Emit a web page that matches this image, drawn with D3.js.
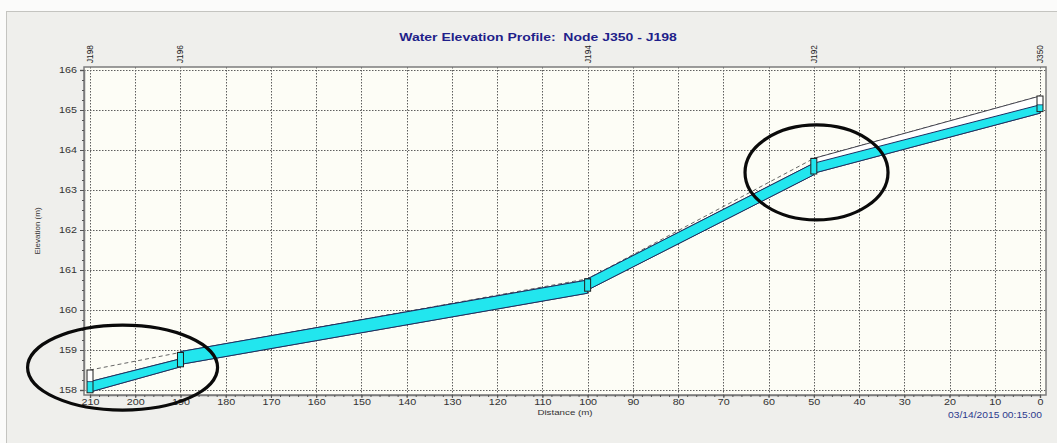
<!DOCTYPE html>
<html>
<head>
<meta charset="utf-8">
<script src="https://cdn.jsdelivr.net/npm/d3@7"></script>
<style>
  html, body { margin: 0; padding: 0; background: #fbfbfa; }
  svg { display: block; font-family: "Liberation Sans", Arial, sans-serif; }
</style>
</head>
<body>
<script>
// ---- Profile data (distance in m, elevation in m) ----
const nodeNames    = ["J198", "J196", "J194", "J192", "J350"];
const nodeDistance = [210, 190, 100, 50, 0];
const nodeInvert   = [157.93, 158.58, 160.47, 163.40, 164.96];
const nodeRim      = [158.50, 158.94, 160.78, 163.79, 165.35];
const nodeWater    = [158.21, 158.94, 160.78, 163.79, 165.13];

// Conduits between consecutive nodes (upstream end = larger distance)
const linkInvertUp = [157.95, 158.64, 160.50, 163.42];
const linkInvertDn = [158.58, 160.42, 163.38, 164.92];
const linkWaterUp  = [158.21, 158.96, 160.78, 163.67];
const linkWaterDn  = [158.78, 160.75, 163.67, 165.13];
const linkCrownUp  = [158.21, 158.96, 160.78, 163.79];
const linkCrownDn  = [158.78, 160.75, 163.67, 165.35];

// Axis ticks
const distanceTicks  = d3.range(0, 211, 10);
const distanceMinor  = d3.range(0, 211, 2);
const elevationTicks = d3.range(158, 167, 1);
const elevationMinor = d3.range(158, 166.01, 0.25);

// Highlight rings: [distance, elevation, rx, ry]
const ringCenters = [[202.8, 158.56, 95, 42.5], [49.4, 163.44, 71.5, 47.5]];

const titleText = "Water Elevation Profile:  Node J350 - J198";
const stampText = "03/14/2015 00:15:00";

const W = 1057, H = 443;
const SX = 1.25; // horizontal text stretch

const svg = d3.select("body").append("svg").attr("width", W).attr("height", H);

const x = d3.scaleLinear().domain([210, 0]).range([90, 1040]);
const y = d3.scaleLinear().domain([158, 166]).range([390, 70]);

const fx0 = x(210) - 6, fx1 = x(0) + 6;
const fy0 = y(166) - 3, fy1 = y(158) + 5;

// Window panel
svg.append("rect").attr("x", 6.5).attr("y", 11.5).attr("width", W - 6).attr("height", H - 11)
  .attr("fill", "#efefec").attr("stroke", "#c4c4c0");

// Plot area
svg.append("rect").attr("x", fx0).attr("y", fy0).attr("width", fx1 - fx0).attr("height", fy1 - fy0)
  .attr("fill", "#fdfdf6");

// Grid
const grid = svg.append("g").attr("stroke", "#5e5e5e").attr("stroke-width", 1)
  .attr("stroke-dasharray", "1.5,1.5");
grid.selectAll("line.v").data(distanceTicks).join("line")
  .attr("x1", d => Math.round(x(d)) + 0.5).attr("x2", d => Math.round(x(d)) + 0.5)
  .attr("y1", fy0).attr("y2", fy1);
grid.selectAll("line.h").data(elevationTicks).join("line")
  .attr("y1", d => Math.round(y(d)) + 0.5).attr("y2", d => Math.round(y(d)) + 0.5)
  .attr("x1", fx0).attr("x2", fx1);

// Ground surface (dashed, through node rims)
const rimPts = nodeDistance.map((d, i) => [x(d), y(nodeRim[i])]);
svg.append("path").attr("d", d3.line()(rimPts))
  .attr("fill", "none").attr("stroke", "#555").attr("stroke-width", 0.9)
  .attr("stroke-dasharray", "4,3");

// Conduits: pipe outline then water
const links = linkInvertUp.map((_, i) => ({
  d0: nodeDistance[i], d1: nodeDistance[i + 1],
  inv0: linkInvertUp[i], inv1: linkInvertDn[i],
  w0: linkWaterUp[i], w1: linkWaterDn[i],
  c0: linkCrownUp[i], c1: linkCrownDn[i]
}));

const line = d3.line();
svg.append("g").selectAll("path").data(links).join("path")
  .attr("d", l => line([[x(l.d0), y(l.inv0)], [x(l.d1), y(l.inv1)], [x(l.d1), y(l.c1)], [x(l.d0), y(l.c0)]]) + "Z")
  .attr("fill", "#ffffff").attr("stroke", "#333340").attr("stroke-width", 0.9);

svg.append("g").selectAll("path").data(links).join("path")
  .attr("d", l => line([[x(l.d0), y(l.inv0)], [x(l.d1), y(l.inv1)], [x(l.d1), y(l.w1)], [x(l.d0), y(l.w0)]]) + "Z")
  .attr("fill", "#22e6ee").attr("stroke", "#1d2f63").attr("stroke-width", 1);

// Nodes
const nodes = nodeNames.map((n, i) => ({
  name: n, d: nodeDistance[i], inv: nodeInvert[i], rim: nodeRim[i], w: nodeWater[i]
}));
const nw = 6;
const ng = svg.append("g").selectAll("g").data(nodes).join("g");
ng.append("rect")
  .attr("x", d => x(d.d) - nw / 2).attr("width", nw)
  .attr("y", d => y(d.rim)).attr("height", d => y(d.inv) - y(d.rim))
  .attr("fill", "#ffffff");
ng.append("rect")
  .attr("x", d => x(d.d) - nw / 2).attr("width", nw)
  .attr("y", d => y(d.w)).attr("height", d => y(d.inv) - y(d.w))
  .attr("fill", "#22e6ee");
ng.append("line")
  .attr("x1", d => x(d.d) - nw / 2).attr("x2", d => x(d.d) + nw / 2)
  .attr("y1", d => y(d.w)).attr("y2", d => y(d.w))
  .attr("stroke", "#1d2f63").attr("stroke-width", 0.8);
ng.append("rect")
  .attr("x", d => x(d.d) - nw / 2).attr("width", nw)
  .attr("y", d => y(d.rim)).attr("height", d => y(d.inv) - y(d.rim))
  .attr("fill", "none").attr("stroke", "#1e1e1e").attr("stroke-width", 1);

// Node labels above the frame
svg.append("g").selectAll("text").data(nodes).join("text")
  .attr("transform", d => `translate(${x(d.d) + 3},${fy0 - 4}) rotate(-90)`)
  .attr("font-size", 8.2).attr("fill", "#222").text(d => d.name);

// Frame
svg.append("rect").attr("x", fx0).attr("y", fy0).attr("width", fx1 - fx0).attr("height", fy1 - fy0)
  .attr("fill", "none").attr("stroke", "#7c7c7c").attr("stroke-width", 1.5);

// Axes
const yAxis = svg.append("g").attr("transform", `translate(${fx0},0)`)
  .call(d3.axisLeft(y).tickValues(elevationTicks).tickSize(4).tickPadding(2).tickFormat(d3.format("d")));
svg.append("g").attr("transform", `translate(${fx0},0)`)
  .call(d3.axisLeft(y).tickValues(elevationMinor).tickSize(2).tickFormat(""))
  .call(g => g.select(".domain").remove());

const xAxis = svg.append("g").attr("transform", `translate(0,${fy1})`)
  .call(d3.axisBottom(x).tickValues(distanceTicks).tickSize(3).tickPadding(1).tickFormat(d3.format("d")));
svg.append("g").attr("transform", `translate(0,${fy1})`)
  .call(d3.axisBottom(x).tickValues(distanceMinor).tickSize(2).tickFormat(""))
  .call(g => g.select(".domain").remove());

svg.selectAll(".tick line").attr("stroke", "#555");
svg.selectAll(".domain").attr("stroke", "#7c7c7c").attr("stroke-width", 1.5);

yAxis.selectAll("text")
  .attr("font-family", "Liberation Sans, Arial, sans-serif").attr("font-size", 8.6).attr("fill", "#333")
  .attr("x", -7 / SX).attr("transform", `scale(${SX},1)`);
xAxis.selectAll("text")
  .attr("font-family", "Liberation Sans, Arial, sans-serif").attr("font-size", 8.6).attr("fill", "#333")
  .attr("transform", `scale(${SX},1)`);

// Axis titles
svg.append("text")
  .attr("transform", `translate(${(fx0 + fx1) / 2},${fy1 + 20}) scale(${SX},1)`)
  .attr("text-anchor", "middle").attr("font-size", 7.8).attr("fill", "#333")
  .text("Distance (m)");
svg.append("text")
  .attr("transform", `translate(40,${(fy0 + fy1) / 2}) rotate(-90)`)
  .attr("text-anchor", "middle").attr("font-size", 8).attr("fill", "#333")
  .text("Elevation (m)");

// Title
svg.append("text")
  .attr("transform", `translate(538,41) scale(${SX},1)`)
  .attr("text-anchor", "middle").attr("font-size", 11.2).attr("font-weight", "bold")
  .attr("fill", "#1f1f8a").style("white-space", "pre")
  .text(titleText);

// Time stamp
svg.append("text")
  .attr("transform", `translate(1042,418) scale(${SX},1)`)
  .attr("text-anchor", "end").attr("font-size", 8.2).attr("fill", "#2d3a8c")
  .text(stampText);

// Highlight rings
svg.append("g").selectAll("ellipse").data(ringCenters).join("ellipse")
  .attr("cx", d => x(d[0])).attr("cy", d => y(d[1]))
  .attr("rx", d => d[2]).attr("ry", d => d[3])
  .attr("fill", "none").attr("stroke", "#0a0a0a").attr("stroke-width", 3.2);
</script>
</body>
</html>
